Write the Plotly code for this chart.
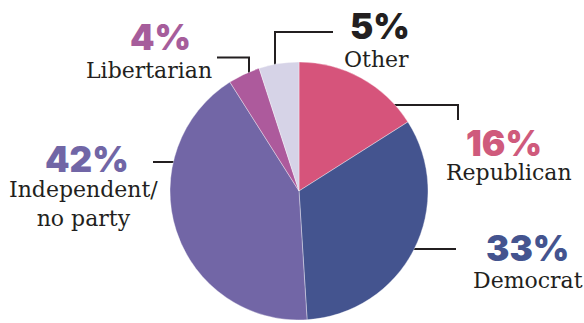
import plotly.graph_objects as go

# Party identification shares, clockwise from 12 o'clock
parties = ["Republican", "Democrat", "Independent/<br>no party", "Libertarian", "Other"]
shares = [16, 33, 42, 4, 5]
slice_colors = ["#d6547b", "#44548f", "#7266a6", "#ad5a9c", "#d6d3e7"]
pct_colors = ["#cf5a7c", "#44548f", "#7166a6", "#a65d9b", "#231f20"]

W, H = 584, 323
CX, CY, R = 299, 191, 129  # pie centre and radius in pixels


def px(x):
    return x / W


def py(y):
    return 1 - y / H


# label anchor points (percentage centre, name centre) in pixels
label_pos = {
    "Republican": ((504, 143), (509, 172)),
    "Democrat": ((527, 248), (528, 280)),
    "Independent/<br>no party": ((87, 159), (83, 204)),
    "Libertarian": ((160, 37), (149, 70)),
    "Other": ((380, 26), (376, 59)),
}

# leader line polylines in pixels
leader_paths = [
    [(217, 57.5), (249, 57.5), (249, 78)],
    [(275, 70), (275, 32), (333, 32)],
    [(388, 105), (458, 105), (458, 120)],
    [(405, 249), (456, 249)],
    [(153, 162), (182, 162)],
]

fig = go.Figure(
    go.Pie(
        labels=parties,
        values=shares,
        sort=False,
        direction="clockwise",
        rotation=0,
        marker=dict(colors=slice_colors, line=dict(color="rgba(255,255,255,0.6)", width=0.6)),
        textinfo="none",
        hoverinfo="label+percent",
        showlegend=False,
        domain=dict(x=[px(CX - R), px(CX + R)], y=[py(CY + R), py(CY - R)]),
    )
)

shapes = []
for path in leader_paths:
    d = "M " + " L ".join(f"{px(x)},{py(y)}" for x, y in path)
    shapes.append(
        dict(type="path", path=d, xref="paper", yref="paper", layer="below",
             line=dict(color="#231f20", width=2))
    )

annotations = []
for name, share, col in zip(parties, shares, pct_colors):
    (pxy, nxy) = label_pos[name]
    annotations.append(
        dict(text=f"{share}%", x=px(pxy[0]), y=py(pxy[1]), xref="paper", yref="paper",
             xanchor="center", yanchor="middle", showarrow=False,
             font=dict(family="Inter", size=35, color=col, weight=900))
    )
    annotations.append(
        dict(text=name, x=px(nxy[0]), y=py(nxy[1]), xref="paper", yref="paper",
             xanchor="center", yanchor="middle", showarrow=False,
             font=dict(family="DejaVu Serif", size=22, color="#231f20", weight=300))
    )

fig.update_layout(
    width=W,
    height=H,
    margin=dict(l=0, r=0, t=0, b=0),
    paper_bgcolor="white",
    plot_bgcolor="white",
    shapes=shapes,
    annotations=annotations,
)

fig.write_html("out.html")
